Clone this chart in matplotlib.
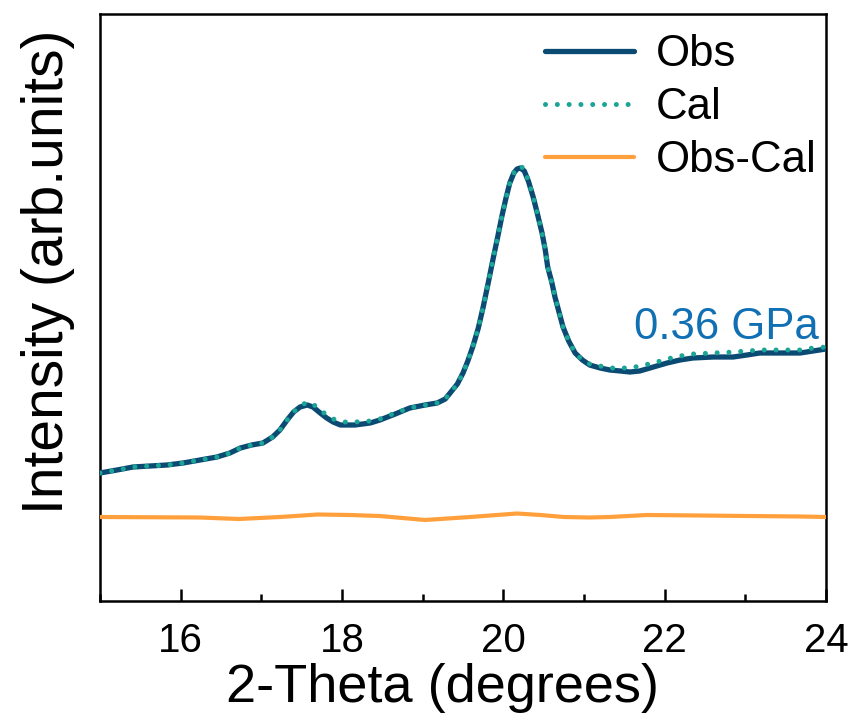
import matplotlib
matplotlib.use("Agg")
import matplotlib.pyplot as plt
from matplotlib.ticker import MultipleLocator, NullLocator

plt.rcParams['font.family'] = ['Liberation Sans', 'DejaVu Sans']

# ---- data ----
two_theta = [15.00, 15.21, 15.41, 15.62, 15.83, 16.03, 16.24, 16.45, 16.61, 16.74,
             16.88, 17.02, 17.14, 17.23, 17.32, 17.40, 17.48, 17.57, 17.64, 17.73,
             17.81, 17.89, 17.98, 18.04, 18.16, 18.35, 18.47, 18.66, 18.84, 19.03,
             19.18, 19.28, 19.34, 19.43, 19.50, 19.56, 19.62, 19.69, 19.75, 19.81,
             19.87, 19.93, 19.98, 20.03, 20.08, 20.13, 20.17, 20.21, 20.26, 20.31,
             20.37, 20.42, 20.48, 20.52, 20.55, 20.60, 20.64, 20.69, 20.74, 20.81,
             20.89, 20.98, 21.07, 21.20, 21.32, 21.45, 21.57, 21.69, 21.86, 22.03,
             22.19, 22.35, 22.60, 22.85, 23.02, 23.18, 23.43, 23.68, 23.84, 24.00]

obs = [128, 131, 134, 135, 136, 138, 141, 144, 148, 153,
       156, 158, 164, 171, 181, 189, 194, 196, 194, 188,
       183, 179, 176, 176, 176, 178, 181, 187, 193, 196,
       198, 202, 208, 217, 228, 240, 254, 273, 294, 317,
       341, 364, 384, 402, 418, 428, 432, 433, 430, 420,
       404, 388, 368, 351, 334, 319, 304, 289, 274, 260,
       248, 241, 236, 233, 231, 230, 229, 230, 234, 238,
       241, 243, 244, 244, 246, 248, 248, 248, 250, 252]

cal = [128, 131, 134, 135, 136, 138, 141, 144, 148, 153,
       156, 158, 164, 171, 181, 189, 195, 199, 197, 191,
       186, 182, 180, 179, 179, 180, 182, 188, 193, 196,
       198, 202, 208, 217, 228, 240, 254, 273, 294, 317,
       341, 364, 384, 402, 418, 428, 433, 435, 432, 420,
       404, 388, 368, 351, 334, 319, 304, 289, 274, 260,
       248, 241, 237, 235, 233, 233, 233, 235, 238, 242,
       245, 247, 248, 249, 250, 251, 251, 251, 253, 254]

res_theta = [15.00, 16.24, 16.72, 17.23, 17.70, 18.10, 18.47, 19.03, 19.59, 20.17,
             20.46, 20.75, 21.07, 21.32, 21.78, 22.44, 23.04, 23.68, 24.00]
residual = [84, 83.5, 82, 84, 86.5, 86, 85, 81, 84, 87.5,
            86, 84, 83.5, 84, 86, 85.5, 85, 84.5, 84]

labels = ["Obs", "Cal", "Obs-Cal"]
pressure_label = "0.36 GPa"
x_ticks_major = [16, 18, 20, 22, 24]

# ---- figure ----
fig = plt.figure(figsize=(8.5, 7.19), dpi=100)
ax = fig.add_axes([100/850, 1 - 601/719, 726/850, 587/719])

ax.plot(two_theta, obs, color='#0b4a73', lw=3.8, solid_capstyle='round',
        solid_joinstyle='round', label=labels[0], zorder=3)
ax.plot(two_theta, cal, color='#1ba597', lw=3.6, linestyle=(0, (0.01, 2.35)),
        dash_capstyle='round', label=labels[1], zorder=4)
ax.plot(res_theta, residual, color='#ffa03c', lw=3.0, solid_capstyle='round',
        label=labels[2], zorder=3)

ax.set_xlim(15, 24)
ax.set_ylim(0, 587)
ax.set_xticks(x_ticks_major)
ax.xaxis.set_minor_locator(MultipleLocator(1))
ax.yaxis.set_major_locator(NullLocator())

for s in ax.spines.values():
    s.set_linewidth(1.8)

ax.tick_params(axis='x', which='major', direction='in', length=9, width=1.8, pad=15,
               labelsize=29)
ax.tick_params(axis='x', which='minor', direction='in', length=5, width=1.8)

ax.set_xlabel("2-Theta (degrees)", fontsize=39)
ax.xaxis.set_label_coords(0.472, -0.105, transform=ax.transAxes)
ax.xaxis.label.set_va('top')
ax.set_ylabel("Intensity (arb.units)", fontsize=41)
ax.yaxis.set_label_coords(-0.034, 0.56, transform=ax.transAxes)

ax.text(22.76, 273, pressure_label, color='#1170b3', fontsize=31.5,
        ha='center', va='center')

leg = ax.legend(loc='upper right', bbox_to_anchor=(1.011, 0.995), frameon=False,
                fontsize=31.5, handlelength=2.02, handletextpad=0.5,
                labelspacing=0.27, borderaxespad=0.0)

fig.savefig("out.png", dpi=100)
